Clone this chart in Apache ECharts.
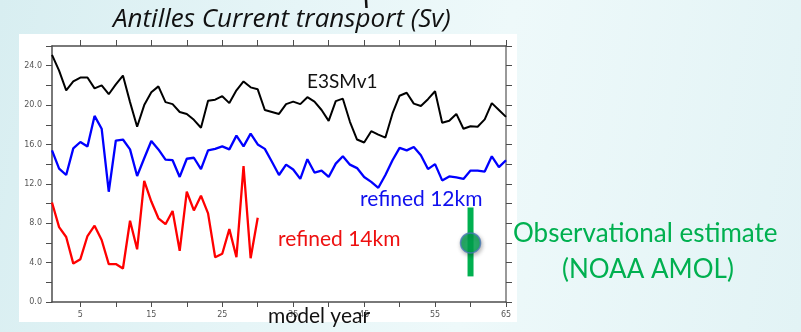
<!DOCTYPE html>
<html>
<head>
<meta charset="utf-8">
<script src="https://cdn.jsdelivr.net/npm/echarts@6/dist/echarts.min.js"></script>
<style>
  html, body { margin: 0; padding: 0; }
  body {
    width: 801px; height: 332px; overflow: hidden;
    background: linear-gradient(100deg, #d8eef1 0%, #e6f5f7 35%, #eef9fa 60%, #e2f3f5 100%);
  }
  #chart { width: 801px; height: 332px; }
</style>
</head>
<body>
<div id="chart"></div>
<script>
// Model years and annual-mean Antilles Current transport (Sv)
const years = Array.from({ length: 65 }, (_, i) => i + 1);

const e3smv1 = [
  25.1, 23.5, 21.5, 22.4, 22.8, 22.8, 21.7, 22.0, 21.1, 22.1,
  23.0, 20.3, 17.8, 20.0, 21.3, 21.9, 20.3, 20.1, 19.3, 19.1,
  18.5, 17.7, 20.45, 20.55, 20.9, 20.2, 21.5, 22.4, 21.8, 21.6,
  19.5, 19.3, 19.1, 20.1, 20.35, 20.1, 20.8, 20.35, 19.5, 18.4,
  20.4, 20.65, 18.3, 16.5, 16.2, 17.35, 17.0, 16.7, 19.15, 20.95,
  21.25, 20.15, 19.9, 20.6, 21.4, 18.2, 18.4, 19.1, 17.6, 17.85,
  17.8, 18.55, 20.2, 19.5, 18.8
];

const refined12km = [
  15.4, 13.55, 12.9, 15.6, 16.25, 15.8, 18.9, 17.6, 11.2, 16.4,
  16.5, 15.5, 12.8, 14.6, 16.35, 15.5, 14.45, 14.4, 12.7, 14.55,
  14.65, 13.5, 15.4, 15.55, 15.8, 15.5, 16.9, 15.8, 17.1, 16.0,
  15.55, 14.25, 12.9, 13.95, 13.45, 12.5, 14.5, 13.15, 13.35, 12.7,
  14.05, 14.8, 13.95, 13.6, 12.7, 12.2, 11.6, 12.9, 14.4, 15.65,
  15.4, 15.75, 14.9, 13.5, 14.0, 12.35, 12.75, 12.65, 12.5, 13.35,
  13.35, 13.25, 14.8, 13.7, 14.4
];

const refined14km = [
  10.1, 7.6, 6.6, 3.9, 4.35, 6.7, 7.75, 6.3, 3.85, 3.85,
  3.4, 8.25, 5.35, 12.3, 10.2, 8.5, 7.9, 9.25, 5.2, 11.2,
  9.3, 10.8, 9.0, 4.55, 4.9, 7.4, 4.55, 13.8, 4.45, 8.55
];

// Observational estimate (NOAA AMOL): central value and range
const obsYear = 60;
const obsMean = 6.0;
const obsRange = [2.6, 9.6];

const yTickLabels = [0, 4, 8, 12, 16, 20, 24];
const xTickLabels = [5, 15, 25, 35, 45, 55, 65];
const xTicks = [5, 10, 15, 20, 25, 30, 35, 40, 45, 50, 55, 60, 65];

const toPairs = (ys) => ys.map((v, i) => [years[i], v]);

const axisColor = '#4d4d4d';
const labelFont = { fontFamily: 'DejaVu Sans', fontSize: 8, color: '#555' };
const annoFont = 'Lato, "Open Sans", sans-serif';

const chart = echarts.init(document.getElementById('chart'), null, { renderer: 'canvas' });

chart.setOption({
  backgroundColor: 'transparent',
  animation: false,
  grid: { left: 52, right: 295, top: 46, bottom: 30, containLabel: false },
  xAxis: [
    {
      type: 'value', position: 'bottom', min: 1, max: 65,
      axisLine: { show: true, lineStyle: { color: axisColor, width: 1.5 } },
      axisTick: { show: true, length: 5, customValues: xTicks, lineStyle: { color: axisColor, width: 1 } },
      axisLabel: { show: true, customValues: xTickLabels, margin: 9, ...labelFont },
      splitLine: { show: false }
    },
    {
      type: 'value', position: 'top', min: 1, max: 65,
      axisLine: { show: true, onZero: false, lineStyle: { color: axisColor, width: 1.5 } },
      axisTick: { show: true, length: 6, customValues: xTicks, lineStyle: { color: axisColor, width: 1 } },
      axisLabel: { show: false },
      splitLine: { show: false }
    }
  ],
  yAxis: [
    {
      type: 'value', position: 'left', min: 0, max: 26, interval: 2,
      axisLine: { show: true, onZero: false, lineStyle: { color: axisColor, width: 1.5 } },
      axisTick: { show: true, length: 6, lineStyle: { color: axisColor, width: 1 } },
      axisLabel: {
        show: true, margin: 10, customValues: yTickLabels,
        formatter: (v) => Number(v).toFixed(1), ...labelFont
      },
      splitLine: { show: false }
    },
    {
      type: 'value', position: 'right', min: 0, max: 26, interval: 2,
      axisLine: { show: true, onZero: false, lineStyle: { color: '#777', width: 1.5 } },
      axisTick: { show: true, length: 6, lineStyle: { color: axisColor, width: 1 } },
      axisLabel: { show: false },
      splitLine: { show: false }
    }
  ],
  graphic: [
    // white panel behind the plot
    { type: 'rect', z: -10, silent: true, shape: { x: 19, y: 34, width: 498, height: 288 }, style: { fill: '#ffffff' } },
    // stroke fragment at the top edge
    { type: 'line', silent: true, shape: { x1: 366, y1: 0, x2: 366.5, y2: 8 }, style: { stroke: '#111', lineWidth: 2.5 } },
    {
      type: 'text', silent: true, x: 113, y: 7,
      style: { text: 'Antilles Current transport (Sv)', fill: '#111', fontFamily: '"Open Sans", Lato, sans-serif', fontStyle: 'italic', fontSize: 26 }
    },
    { type: 'text', silent: true, x: 307, y: 72, style: { text: 'E3SMv1', fill: '#111', fontFamily: annoFont, fontSize: 19 } },
    { type: 'text', silent: true, x: 360, y: 189, style: { text: 'refined 12km', fill: '#1010ee', fontFamily: annoFont, fontSize: 21 } },
    { type: 'text', silent: true, x: 278, y: 229, style: { text: 'refined 14km', fill: '#ee1010', fontFamily: annoFont, fontSize: 21 } },
    { type: 'text', silent: true, x: 513, y: 221, style: { text: 'Observational estimate', fill: '#00b050', fontFamily: annoFont, fontSize: 26 } },
    { type: 'text', silent: true, x: 562, y: 257, style: { text: '(NOAA AMOL)', fill: '#00b050', fontFamily: annoFont, fontSize: 26 } },
    { type: 'text', silent: true, x: 268, y: 306, z: 100, style: { text: 'model year', fill: '#111', fontFamily: annoFont, fontSize: 21 } }
  ],
  series: [
    {
      name: 'E3SMv1', type: 'line', data: toPairs(e3smv1), showSymbol: false,
      lineStyle: { color: '#000', width: 2 }, z: 3
    },
    {
      name: 'refined 12km', type: 'line', data: toPairs(refined12km), showSymbol: false,
      lineStyle: { color: '#0000ff', width: 2.3 }, z: 3
    },
    {
      name: 'refined 14km', type: 'line', data: toPairs(refined14km), showSymbol: false,
      lineStyle: { color: '#ff0000', width: 2.3 }, z: 3
    },
    {
      name: 'NOAA AMOL range', type: 'line', data: [[obsYear, obsRange[0]], [obsYear, obsRange[1]]],
      showSymbol: false, lineStyle: { color: '#00b050', width: 6, cap: 'butt' }, z: 4
    },
    {
      name: 'NOAA AMOL', type: 'scatter', data: [[obsYear, obsMean]], symbol: 'circle', symbolSize: 20,
      itemStyle: {
        color: '#00a650', borderColor: '#4a78b8', borderWidth: 1.5,
        shadowColor: 'rgba(0,0,0,0.35)', shadowBlur: 4, shadowOffsetX: 1, shadowOffsetY: 2
      },
      z: 5
    }
  ]
});
</script>
</body>
</html>
